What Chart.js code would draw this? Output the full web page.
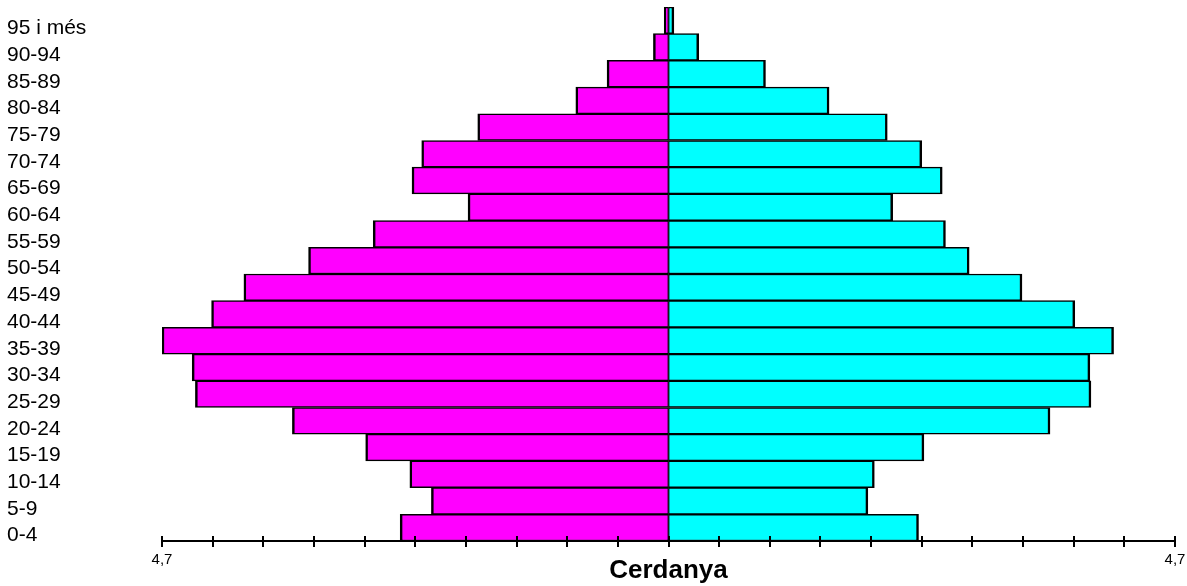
<!DOCTYPE html>
<html>
<head>
<meta charset="utf-8">
<script src="https://cdn.jsdelivr.net/npm/chart.js@4"></script>
<style>
  body { margin: 0; background: #fff; }
</style>
</head>
<body>
<canvas id="piramide" width="1187" height="586"></canvas>
<script>
// Piràmide de població - Cerdanya (%)
var grups = ['95 i més', '90-94', '85-89', '80-84', '75-79', '70-74', '65-69', '60-64', '55-59', '50-54',
             '45-49', '40-44', '35-39', '30-34', '25-29', '20-24', '15-19', '10-14', '5-9', '0-4'];
var esquerra = [0.04, 0.14, 0.57, 0.86, 1.77, 2.29, 2.38, 1.86, 2.74, 3.34,
                3.94, 4.24, 4.70, 4.42, 4.39, 3.49, 2.81, 2.40, 2.20, 2.49];
var dreta = [0.05, 0.28, 0.90, 1.49, 2.03, 2.35, 2.54, 2.08, 2.57, 2.79,
             3.28, 3.77, 4.13, 3.91, 3.92, 3.54, 2.37, 1.91, 1.85, 2.32];
var marques = [-4.7, -4.23, -3.76, -3.29, -2.82, -2.35, -1.88, -1.41, -0.94, -0.47, 0,
               0.47, 0.94, 1.41, 1.88, 2.35, 2.82, 3.29, 3.76, 4.23, 4.7];
var titol = 'Cerdanya';

Chart.defaults.font.family = '"Liberation Sans", Arial, sans-serif';
Chart.defaults.color = '#000';

// marques de l'eix x per sobre i per sota de la línia
var marquesEix = {
    id: 'marquesEix',
    afterDatasetsDraw: function(chart) {
        var ctx = chart.ctx;
        var x = chart.scales.x;
        var y0 = chart.chartArea.bottom;
        ctx.save();
        ctx.strokeStyle = '#000';
        ctx.lineWidth = 2;
        x.ticks.forEach(function(t) {
            var px = Math.round(x.getPixelForValue(t.value));
            ctx.beginPath();
            ctx.moveTo(px, y0 - 5);
            ctx.lineTo(px, y0 + 6);
            ctx.stroke();
        });
        ctx.restore();
    }
};

var ctx = document.getElementById('piramide').getContext('2d');
var grafic = new Chart(ctx, {
    type: 'bar',
    data: {
        labels: grups,
        datasets: [
            {
                data: esquerra.map(function(v) { return -v; }),
                backgroundColor: '#ff00ff',
                borderColor: '#000',
                borderWidth: { top: 1.5, bottom: 1.5, left: 2.5, right: 1.2 },
                borderSkipped: false,
                barPercentage: 1,
                categoryPercentage: 1
            },
            {
                data: dreta,
                backgroundColor: '#00ffff',
                borderColor: '#000',
                borderWidth: { top: 1.5, bottom: 1.5, left: 1.2, right: 2.5 },
                borderSkipped: false,
                barPercentage: 1,
                categoryPercentage: 1
            }
        ]
    },
    options: {
        indexAxis: 'y',
        responsive: false,
        animation: false,
        layout: {
            padding: { left: 7, right: 12, top: 7, bottom: 2 }
        },
        scales: {
            x: {
                stacked: true,
                min: -4.7,
                max: 4.7,
                grid: { display: false },
                border: { display: true, color: '#000', width: 2 },
                afterBuildTicks: function(scale) {
                    scale.ticks = marques.map(function(v) { return { value: v }; });
                },
                afterFit: function(scale) {
                    scale.height = 30;
                    scale.paddingLeft = 0;
                    scale.paddingRight = 0;
                },
                ticks: {
                    autoSkip: false,
                    maxRotation: 0,
                    padding: 2,
                    font: { size: 15 },
                    callback: function(value) {
                        return Math.abs(Math.abs(value) - 4.7) < 0.001 ? '4,7' : '';
                    }
                }
            },
            y: {
                stacked: true,
                grid: { display: false },
                border: { display: false },
                afterFit: function(scale) {
                    scale.width = 155;
                    scale.paddingTop = 0;
                    scale.paddingBottom = 0;
                },
                ticks: {
                    autoSkip: false,
                    crossAlign: 'far',
                    labelOffset: 8,
                    font: { size: 21 }
                }
            }
        },
        plugins: {
            legend: { display: false },
            tooltip: { enabled: false },
            title: {
                display: true,
                position: 'bottom',
                fullSize: false,
                text: titol,
                color: '#000',
                padding: { top: -16.2, bottom: -2 },
                font: { size: 26, weight: 'bold' }
            }
        }
    },
    plugins: [marquesEix]
});
</script>
</body>
</html>
